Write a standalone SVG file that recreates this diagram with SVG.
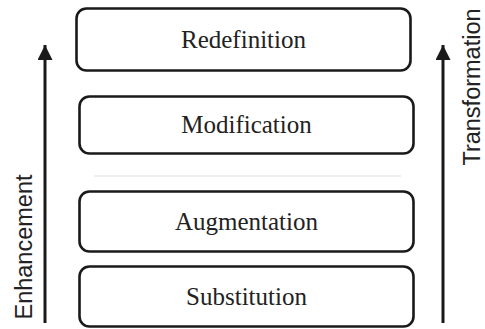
<svg xmlns="http://www.w3.org/2000/svg" width="485" height="329" viewBox="0 0 485 329">
  <defs>
    <marker id="head" viewBox="0 0 10 10" refX="10" refY="5" markerWidth="5" markerHeight="5" markerUnits="strokeWidth" orient="auto">
      <path d="M0,0 L10,5 L0,10 Z" fill="#1a1a1a"/>
    </marker>
    <style>
      .box { fill: #ffffff; stroke: #1a1a1a; stroke-width: 2.6; }
      .lbl { font-family: "Liberation Serif", "Times New Roman", serif; font-size: 25px; fill: #222222; text-anchor: middle; }
      .side { font-family: "Liberation Sans", Arial, sans-serif; font-size: 23.5px; fill: #222222; text-anchor: middle; }
      .axis { stroke: #1a1a1a; stroke-width: 3; fill: none; }
    </style>
  </defs>
  <rect width="485" height="329" fill="#ffffff"/>

  <!-- upward axes -->
  <g id="connectors">
    <line class="axis" x1="45" y1="323" x2="45" y2="45" marker-end="url(#head)"/>
    <line class="axis" x1="443" y1="323" x2="443" y2="45" marker-end="url(#head)"/>
  </g>

  <!-- axis captions -->
  <g id="enhancement">
    <text class="side" transform="translate(32,247) rotate(-90)">Enhancement</text>
  </g>
  <g id="transformation">
    <text class="side" transform="translate(480,87) rotate(-90)">Transformation</text>
  </g>

  <!-- divider between the two tiers -->
  <line x1="94" y1="176" x2="401" y2="176" stroke="#dddddd" stroke-width="1"/>

  <g id="redefinition">
    <rect class="box" x="76.5" y="8.5" width="334" height="62" rx="10"/>
    <text class="lbl" x="243.5" y="48">Redefinition</text>
  </g>
  <g id="modification">
    <rect class="box" x="79.5" y="96.5" width="334" height="57" rx="10"/>
    <text class="lbl" x="246.5" y="133">Modification</text>
  </g>
  <g id="augmentation">
    <rect class="box" x="79.5" y="191.5" width="334" height="60" rx="10"/>
    <text class="lbl" x="246.5" y="230">Augmentation</text>
  </g>
  <g id="substitution">
    <rect class="box" x="79.5" y="266.5" width="334" height="60" rx="10"/>
    <text class="lbl" x="246.5" y="305">Substitution</text>
  </g>
</svg>
